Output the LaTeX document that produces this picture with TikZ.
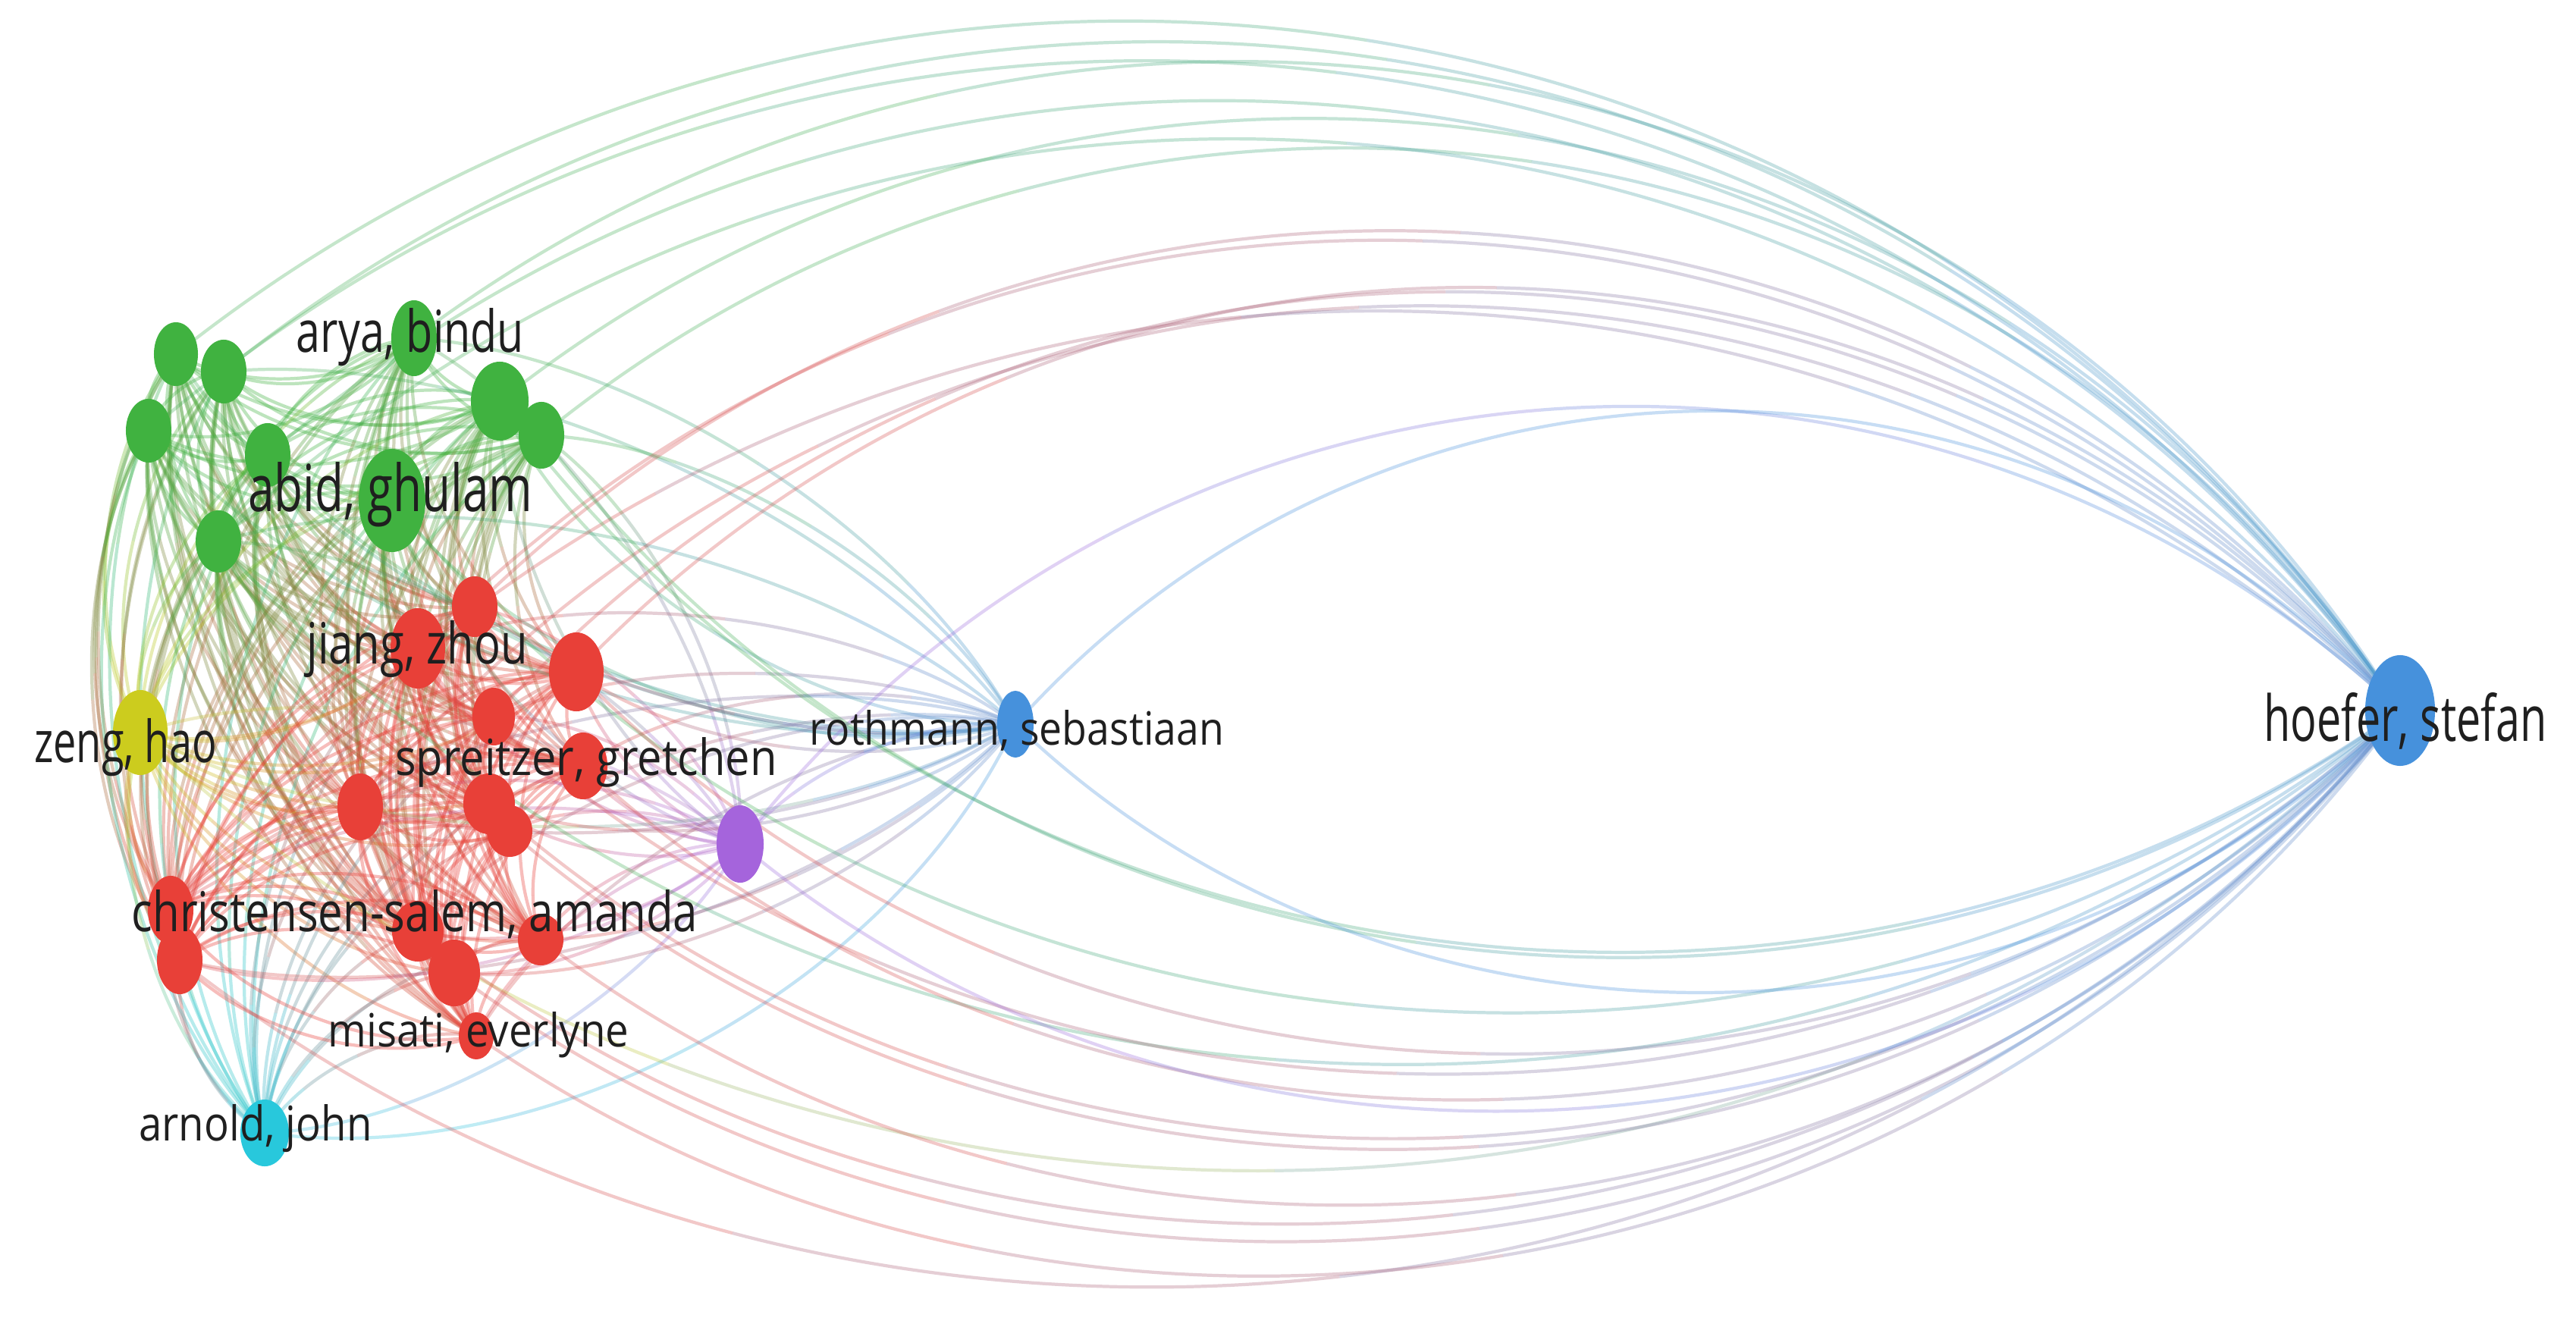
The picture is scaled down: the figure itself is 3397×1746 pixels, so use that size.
\documentclass[tikz,border=0pt]{standalone}
\usepackage{fontspec}
\setmainfont{Open Sans}
\usetikzlibrary{shapes.geometric}
\pgfdeclarelayer{background}
\pgfdeclarelayer{edges}
\pgfsetlayers{background,edges,main}
\definecolor{cg}{RGB}{64,178,64}
\definecolor{cr}{RGB}{232,64,56}
\definecolor{cy}{RGB}{204,204,30}
\definecolor{cp}{RGB}{165,100,220}
\definecolor{cc}{RGB}{40,200,220}
\definecolor{cb}{RGB}{70,145,220}
\newdimen\lxa \newdimen\lya \newdimen\lxb \newdimen\lyb
\newcommand\mixx[5]{\pgfmathsetmacro#1{#2*\pax+#3*\pbx+#4*\pcx+#5*\pdx}}
\newcommand\mixy[5]{\pgfmathsetmacro#1{#2*\pay+#3*\pby+#4*\pcy+#5*\pdy}}
\newcommand\seg[9]{%
  \begin{pgfscope}\color{#9}%
  \pgfpathmoveto{\pgfpoint{#1pt}{#2pt}}%
  \pgfpathcurveto{\pgfpoint{#3pt}{#4pt}}{\pgfpoint{#5pt}{#6pt}}{\pgfpoint{#7pt}{#8pt}}%
  \pgfusepath{stroke}\end{pgfscope}}
% link: source, target, bend h (fraction of chord, + = bulge left of travel), source colour, target colour
\newcommand\lnk[5]{%
  \pgfextractx{\lxa}{\pgfpointanchor{#1}{center}}%
  \pgfextracty{\lya}{\pgfpointanchor{#1}{center}}%
  \pgfextractx{\lxb}{\pgfpointanchor{#2}{center}}%
  \pgfextracty{\lyb}{\pgfpointanchor{#2}{center}}%
  \pgfmathsetmacro\pax{\lxa}\pgfmathsetmacro\pay{\lya}%
  \pgfmathsetmacro\pdx{\lxb}\pgfmathsetmacro\pdy{\lyb}%
  \pgfmathsetmacro\ldx{\pdx-\pax}\pgfmathsetmacro\ldy{\pdy-\pay}%
  \pgfmathsetmacro\pbx{\pax+0.27*\ldx-(#3)*\ldy}%
  \pgfmathsetmacro\pby{\pay+0.27*\ldy+(#3)*\ldx}%
  \pgfmathsetmacro\pcx{\pax+0.73*\ldx-(#3)*\ldy}%
  \pgfmathsetmacro\pcy{\pay+0.73*\ldy+(#3)*\ldx}%
  \mixx\qax{.75}{.25}{0}{0}\mixy\qay{.75}{.25}{0}{0}%
  \mixx\qbx{.5625}{.375}{.0625}{0}\mixy\qby{.5625}{.375}{.0625}{0}%
  \mixx\qcx{.421875}{.421875}{.140625}{.015625}\mixy\qcy{.421875}{.421875}{.140625}{.015625}%
  \mixx\qdx{.28125}{.46875}{.21875}{.03125}\mixy\qdy{.28125}{.46875}{.21875}{.03125}%
  \mixx\qex{.1875}{.4375}{.3125}{.0625}\mixy\qey{.1875}{.4375}{.3125}{.0625}%
  \mixx\qfx{.125}{.375}{.375}{.125}\mixy\qfy{.125}{.375}{.375}{.125}%
  \mixx\qgx{.0625}{.3125}{.4375}{.1875}\mixy\qgy{.0625}{.3125}{.4375}{.1875}%
  \mixx\qhx{.03125}{.21875}{.46875}{.28125}\mixy\qhy{.03125}{.21875}{.46875}{.28125}%
  \mixx\qix{.015625}{.140625}{.421875}{.421875}\mixy\qiy{.015625}{.140625}{.421875}{.421875}%
  \mixx\qjx{0}{.0625}{.375}{.5625}\mixy\qjy{0}{.0625}{.375}{.5625}%
  \mixx\qkx{0}{0}{.25}{.75}\mixy\qky{0}{0}{.25}{.75}%
  \seg{\pax}{\pay}{\qax}{\qay}{\qbx}{\qby}{\qcx}{\qcy}{#4!88!#5}%
  \seg{\qcx}{\qcy}{\qdx}{\qdy}{\qex}{\qey}{\qfx}{\qfy}{#4!63!#5}%
  \seg{\qfx}{\qfy}{\qgx}{\qgy}{\qhx}{\qhy}{\qix}{\qiy}{#4!37!#5}%
  \seg{\qix}{\qiy}{\qjx}{\qjy}{\qkx}{\qky}{\pdx}{\pdy}{#4!12!#5}%
}
\tikzset{
  nd/.style 2 args={ellipse,inner sep=0pt,minimum width=#1cm,minimum height=#2cm},
  lab/.style={inner sep=0pt,anchor=base,text=black!88}
}
\begin{document}
\begin{tikzpicture}[x=0.01cm,y=-0.01cm]
\begin{pgfonlayer}{background}
  \fill[white] (0,0) rectangle (3397,1746);
\end{pgfonlayer}
\useasboundingbox (0,0) rectangle (3397,1746);

% green cluster
\node[nd={0.58}{0.84},fill=cg] (g1) at (232,467) {};
\node[nd={0.60}{0.84},fill=cg] (g2) at (295,490) {};
\node[nd={0.60}{0.84},fill=cg] (g3) at (196,568) {};
\node[nd={0.60}{1.00},fill=cg] (g4) at (546,446) {};
\node[nd={0.76}{1.04},fill=cg] (g5) at (659,529) {};
\node[nd={0.60}{0.88},fill=cg] (g6) at (714,574) {};
\node[nd={0.60}{0.84},fill=cg] (g7) at (353,600) {};
\node[nd={0.88}{1.36},fill=cg] (g8) at (517,660) {};
\node[nd={0.60}{0.82},fill=cg] (g9) at (288,714) {};
% yellow
\node[nd={0.72}{1.12},fill=cy] (y1) at (185,966) {};
% red cluster
\node[nd={0.72}{1.06},fill=cr] (r1) at (551,855) {};
\node[nd={0.60}{0.80},fill=cr] (r2) at (626,800) {};
\node[nd={0.72}{1.04},fill=cr] (r3) at (760,886) {};
\node[nd={0.56}{0.76},fill=cr] (r4) at (651,945) {};
\node[nd={0.64}{0.88},fill=cr] (r5) at (769,1010) {};
\node[nd={0.60}{0.88},fill=cr] (r6) at (475,1064) {};
\node[nd={0.68}{0.80},fill=cr] (r7) at (645,1060) {};
\node[nd={0.60}{0.68},fill=cr] (r8) at (672,1096) {};
\node[nd={0.68}{0.80},fill=cr] (r9) at (551,1228) {};
\node[nd={0.60}{0.68},fill=cr] (r10) at (713,1239) {};
\node[nd={0.68}{0.88},fill=cr] (r11) at (599,1283) {};
\node[nd={0.60}{0.90},fill=cr] (r12) at (225,1200) {};
\node[nd={0.60}{0.90},fill=cr] (r13) at (237,1266) {};
\node[nd={0.46}{0.62},fill=cr] (r14) at (628,1366) {};
% cyan, purple, blue
\node[nd={0.64}{0.88},fill=cc] (c1) at (349,1494) {};
\node[nd={0.62}{1.02},fill=cp] (p1) at (976,1113) {};
\node[nd={0.48}{0.88},fill=cb] (b1) at (1339,955) {};
\node[nd={0.92}{1.46},fill=cb] (b2) at (3165,937) {};

% labels
\node[lab] (t-arya) at (541,465) {\resizebox{3.00cm}{0.58cm}{arya, bindu}};
\node[lab] (t-abid) at (515,675) {\resizebox{3.75cm}{0.65cm}{abid, ghulam}};
\node[lab] (t-jiang) at (550,876) {\resizebox{2.91cm}{0.57cm}{jiang, zhou}};
\node[lab] (t-spreitzer) at (773,1022) {\resizebox{5.03cm}{0.50cm}{spreitzer, gretchen}};
\node[lab] (t-zeng) at (166,1005) {\resizebox{2.41cm}{0.58cm}{zeng, hao}};
\node[lab] (t-christensen) at (547,1228) {\resizebox{7.46cm}{0.55cm}{christensen-salem, amanda}};
\node[lab] (t-misati) at (631,1380) {\resizebox{3.97cm}{0.46cm}{misati, everlyne}};
\node[lab] (t-arnold) at (337,1504) {\resizebox{3.07cm}{0.48cm}{arnold, john}};
\node[lab] (t-rothmann) at (1341,982) {\resizebox{5.46cm}{0.46cm}{rothmann, sebastiaan}};
\node[lab] (t-hoefer) at (3172,977) {\resizebox{3.73cm}{0.64cm}{hoefer, stefan}};

\def\Llist{g1/cg,g2/cg,g3/cg,g4/cg,g5/cg,g6/cg,g7/cg,g8/cg,g9/cg,y1/cy,r1/cr,r2/cr,r3/cr,r4/cr,r5/cr,r6/cr,r7/cr,r8/cr,r9/cr,r10/cr,r11/cr,r12/cr,r13/cr,r14/cr,c1/cc}
\begin{pgfonlayer}{edges}
\begin{scope}[line width=1.2pt,draw opacity=0.34]
  % links within the left cluster
  \foreach \a/\ca [count=\i] in \Llist {%
    \foreach \b/\cbb [count=\j] in \Llist {%
      \ifnum\j>\i\relax \lnk{\a}{\b}{-0.18}{\ca}{\cbb}\fi
    }%
  }
\end{scope}
\begin{scope}[line width=1.2pt,draw opacity=0.3]
  % purple fan
  \foreach \a/\ca/\h in {r1/cr/-0.15,r2/cr/0.15,r3/cr/-0.15,r4/cr/0.15,r5/cr/-0.15,r6/cr/0.15,r7/cr/-0.15,r8/cr/0.15,r9/cr/-0.15,r10/cr/0.15,r11/cr/-0.15,r12/cr/0.15,r13/cr/-0.15,r14/cr/0.15,g4/cg/0.15,g5/cg/-0.15,g6/cg/0.15,g8/cg/-0.15,g9/cg/0.15,y1/cy/0.15,c1/cc/-0.15}{%
    \lnk{\a}{p1}{\h}{\ca}{cp}%
  }
  % rothmann fan
  \foreach \a/\ca/\h in {g1/cg/-0.18,g2/cg/0.15,g3/cg/-0.15,g4/cg/0.15,g5/cg/-0.18,g6/cg/0.15,g7/cg/-0.15,g8/cg/-0.18,g9/cg/0.15,y1/cy/-0.15,r1/cr/0.15,r2/cr/-0.12,r3/cr/-0.15,r4/cr/0.12,r5/cr/0.15,r6/cr/-0.12,r7/cr/-0.15,r8/cr/0.12,r9/cr/0.15,r10/cr/-0.12,r11/cr/-0.15,r12/cr/0.15,r13/cr/-0.15,r14/cr/0.15,c1/cc/-0.2,p1/cp/0.15}{%
    \lnk{\a}{b1}{\h}{\ca}{cb}%
  }
  % hoefer, over the top
  \foreach \a/\ca in {g1/cg,g2/cg,g3/cg,g4/cg,g5/cg,g6/cg,g7/cg,g9/cg,r1/cr,r2/cr,r3/cr,r4/cr,r6/cr,r12/cr,p1/cp,b1/cb}{%
    \lnk{\a}{b2}{0.295}{\ca}{cb}%
  }
  % hoefer, under the bottom
  \foreach \a/\ca in {g5/cg,g6/cg,g8/cg,g9/cg,y1/cy,r1/cr,r3/cr,r5/cr,r7/cr,r8/cr,r9/cr,r10/cr,r11/cr,r13/cr,r14/cr,p1/cp,b1/cb}{%
    \lnk{\a}{b2}{-0.265}{\ca}{cb}%
  }
\end{scope}
\end{pgfonlayer}
\end{tikzpicture}
\end{document}
